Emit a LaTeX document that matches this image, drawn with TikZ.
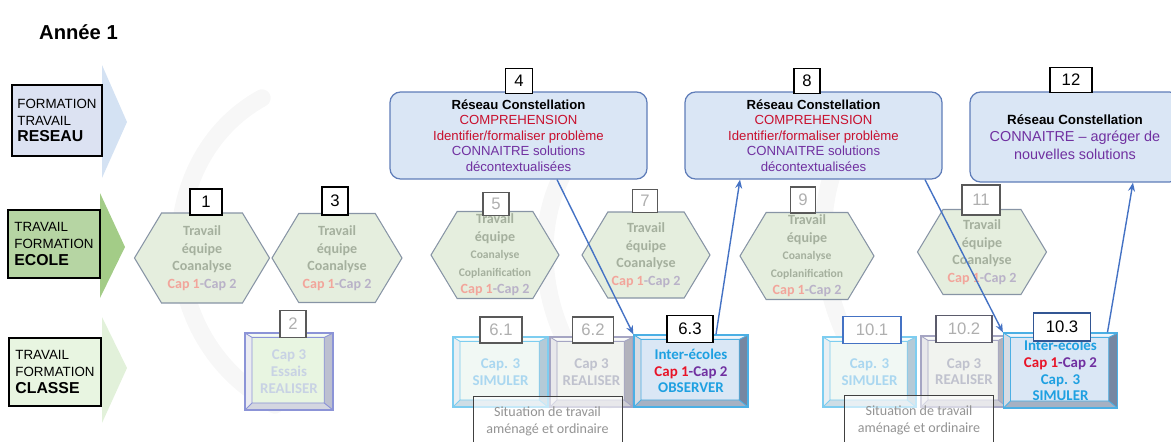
\documentclass[tikz,border=0pt]{standalone}
\usepackage{fontspec}
\setmainfont{Liberation Sans}
\newfontfamily\calib{Carlito}
\usetikzlibrary{shapes.symbols,arrows.meta}

\definecolor{lavande}{RGB}{220,226,242}
\definecolor{flecheReseau}{RGB}{212,226,243}
\definecolor{vertEcole}{RGB}{182,213,163}
\definecolor{flecheEcole}{RGB}{163,204,135}
\definecolor{vertClasse}{RGB}{232,245,225}
\definecolor{flecheClasse}{RGB}{226,241,218}
\definecolor{bleuReseau}{RGB}{218,230,245}
\definecolor{bordReseau}{RGB}{95,125,185}
\definecolor{rougeComp}{RGB}{200,16,46}
\definecolor{violetConn}{RGB}{112,48,160}
\definecolor{vertHex}{RGB}{229,238,222}
\definecolor{bordHex}{RGB}{135,148,165}
\definecolor{texteHex}{RGB}{165,176,158}
\definecolor{rougePale}{RGB}{242,165,155}
\definecolor{violetPale}{RGB}{185,178,200}
\definecolor{grisNum}{RGB}{175,175,175}
\definecolor{bleuFleche}{RGB}{68,114,196}
\definecolor{cyanInter}{RGB}{30,160,225}
\definecolor{rougeCap}{RGB}{232,20,40}
\definecolor{bordInter}{RGB}{75,175,228}
\definecolor{faceInter}{RGB}{118,135,162}
\definecolor{fondInter}{RGB}{218,231,245}
\definecolor{bordSimul}{RGB}{125,205,240}
\definecolor{faceSimul}{RGB}{180,202,215}
\definecolor{fondSimul}{RGB}{241,248,244}
\definecolor{texteSimul}{RGB}{170,215,240}
\definecolor{bordReal}{RGB}{165,165,195}
\definecolor{faceReal}{RGB}{178,178,188}
\definecolor{fondReal}{RGB}{241,243,239}
\definecolor{texteReal}{RGB}{192,194,206}
\definecolor{bordEssai}{RGB}{140,148,215}
\definecolor{faceEssai}{RGB}{188,192,208}
\definecolor{texteEssai}{RGB}{200,210,228}

\newcommand{\pix}{0.02cm}

\begin{document}
\begin{tikzpicture}[x=0.02cm,y=-0.02cm,
    voie/.style={draw=black, line width=0.6pt, align=left, inner sep=0pt,
      font=\fontsize{7.6}{9.6}\selectfont},
    hexa/.style={shape=signal, signal to=east and west, signal pointer angle=118,
      draw=bordHex, fill=vertHex, line width=0.6pt, inner sep=0pt, align=center,
      text=texteHex, font=\calib\bfseries\fontsize{8}{10}\selectfont},
    numero/.style={draw=black, fill=white, line width=0.6pt, inner sep=0pt,
      font=\fontsize{9.5}{10}\selectfont},
    numero pale/.style={numero, draw=black!65, text=grisNum},
    reseau/.style={draw=bordReseau, fill=bleuReseau, rounded corners=6pt,
      line width=0.7pt, align=center, inner sep=0pt,
      font=\fontsize{7.5}{8.9}\selectfont},
    bevel/.style n args={3}{rectangle, draw=#1, fill=#3, line width=0.7pt,
      inner sep=0pt, align=center, font=\calib\bfseries\fontsize{8.5}{9.5}\selectfont,
      path picture={
        \coordinate (pNW) at (path picture bounding box.north west);
        \coordinate (pNE) at (path picture bounding box.north east);
        \coordinate (pSE) at (path picture bounding box.south east);
        \coordinate (pSW) at (path picture bounding box.south west);
        \coordinate (qNW) at ([shift={(4pt,-2.5pt)}]pNW);
        \coordinate (qNE) at ([shift={(-5pt,-2.5pt)}]pNE);
        \coordinate (qSE) at ([shift={(-5pt,4pt)}]pSE);
        \coordinate (qSW) at ([shift={(4pt,4pt)}]pSW);
        \fill[#2] (pNE) -- (pSE) -- (qSE) -- (qNE) -- cycle;
        \fill[#2!65!white] (pSW) -- (pSE) -- (qSE) -- (qSW) -- cycle;
        \fill[#2!30!white] (pNW) -- (qNW) -- (qSW) -- (pSW) -- cycle;
        \fill[white, opacity=.6] (pNW) -- (pNE) -- (qNE) -- (qNW) -- cycle;
        \draw[#1, line width=0.5pt] (qNW) rectangle (qSE)
          (pNW) -- (qNW) (pNE) -- (qNE) (pSE) -- (qSE) (pSW) -- (qSW);
      }},
    situation/.style={draw=black!75, line width=0.5pt, fill=white, fill opacity=0.55,
      text opacity=1, text=black!42, align=center, inner sep=0pt,
      font=\calib\fontsize{8}{9.5}\selectfont,
      minimum width=149*\pix, minimum height=50*\pix},
    fleche/.style={draw=bleuFleche, line width=0.8pt, -{Stealth[length=5pt,width=4pt]}},
    filigrane/.style={draw=black!3, line width=0.35cm, line cap=round},
  ]
  \useasboundingbox (0,0) rectangle (1171,441);
  \clip (0,0) rectangle (1171,441);

  % filigrane
  \draw[filigrane] (262,98) .. controls (150,160) and (150,340) .. (275,405);
  \draw[filigrane] (600,130) .. controls (520,190) and (530,330) .. (610,400);
  \draw[filigrane] (870,110) .. controls (800,180) and (810,320) .. (890,400);

  % titre
  \node[anchor=west, font=\bfseries\fontsize{11.5}{13}\selectfont] (titre) at (33,32) {Année 1};

  % voies
  \fill[flecheReseau] (102,65) -- (127,122) -- (102,178) -- cycle;
  \fill[flecheEcole] (100,193) -- (125,247) -- (100,298) -- cycle;
  \fill[flecheClasse] (102,317) -- (127,368) -- (102,423) -- cycle;
  \node[voie, fill=lavande, minimum width=90*\pix, minimum height=71*\pix] (voieReseau) at (57,120.5)
    {FORMATION\\TRAVAIL\\{\bfseries\fontsize{9}{11}\selectfont RESEAU}};
  \node[voie, fill=vertEcole, minimum width=92*\pix, minimum height=68*\pix] (voieEcole) at (54,244)
    {TRAVAIL\\FORMATION\\{\bfseries\fontsize{9}{11}\selectfont ECOLE}};
  \node[voie, fill=vertClasse, minimum width=92*\pix, minimum height=68*\pix] (voieClasse) at (55,372)
    {TRAVAIL\\FORMATION\\{\bfseries\fontsize{9}{11}\selectfont CLASSE}};

  % ecole
  \node[hexa, minimum width=135*\pix, minimum height=90*\pix] (h1) at (202,258)
    {Travail\\équipe\\Coanalyse\\\textcolor{rougePale}{Cap 1}\textcolor{violetPale}{-Cap 2}};
  \node[hexa, minimum width=130*\pix, minimum height=89*\pix] (h3) at (337,258)
    {Travail\\équipe\\Coanalyse\\\textcolor{rougePale}{Cap 1}\textcolor{violetPale}{-Cap 2}};
  \node[hexa, minimum width=128*\pix, minimum height=87*\pix] (h5) at (495,255)
    {Travail\\équipe\\{\fontsize{6.6}{8}\selectfont Coanalyse}\\{\fontsize{6.6}{8.5}\selectfont Coplanification}\\\textcolor{rougePale}{Cap 1}\textcolor{violetPale}{-Cap 2}};
  \node[hexa, minimum width=128*\pix, minimum height=86*\pix] (h7) at (646,255)
    {Travail\\équipe\\Coanalyse\\\textcolor{rougePale}{Cap 1}\textcolor{violetPale}{-Cap 2}};
  \node[hexa, minimum width=134*\pix, minimum height=87*\pix] (h9) at (807,256)
    {Travail\\équipe\\{\fontsize{6.6}{8}\selectfont Coanalyse}\\{\fontsize{6.6}{8.5}\selectfont Coplanification}\\\textcolor{rougePale}{Cap 1}\textcolor{violetPale}{-Cap 2}};
  \node[hexa, minimum width=129*\pix, minimum height=85*\pix] (h11) at (982,252)
    {Travail\\équipe\\Coanalyse\\\textcolor{rougePale}{Cap 1}\textcolor{violetPale}{-Cap 2}};

  \node[numero, minimum width=32*\pix, minimum height=26*\pix] (n1) at (206,202) {1};
  \node[numero, minimum width=26*\pix, minimum height=28*\pix] (n3) at (335,201) {3};
  \node[numero pale, minimum width=26*\pix, minimum height=23*\pix] (n5) at (496,204) {5};
  \node[numero pale, minimum width=25*\pix, minimum height=23*\pix] (n7) at (645,201) {7};
  \node[numero pale, minimum width=25*\pix, minimum height=26*\pix] (n9) at (803,200) {9};
  \node[numero pale, minimum width=38*\pix, minimum height=30*\pix] (n11) at (981,200) {11};

  % reseau
  \node[reseau, minimum width=257*\pix, minimum height=87*\pix] (r4) at (518.5,135.5)
    {\textbf{Réseau Constellation}\\\textcolor{rougeComp}{COMPREHENSION}\\
     \textcolor{rougeComp}{Identifier/formaliser problème}\\
     \textcolor{violetConn}{CONNAITRE solutions}\\\textcolor{violetConn}{décontextualisées}};
  \node[reseau, minimum width=257*\pix, minimum height=87*\pix] (r8) at (813.5,135.5)
    {\textbf{Réseau Constellation}\\\textcolor{rougeComp}{COMPREHENSION}\\
     \textcolor{rougeComp}{Identifier/formaliser problème}\\
     \textcolor{violetConn}{CONNAITRE solutions}\\\textcolor{violetConn}{décontextualisées}};
  \node[reseau, minimum width=210*\pix, minimum height=90*\pix, font=\fontsize{8.2}{9.8}\selectfont] (r12) at (1075,137)
    {{\bfseries\fontsize{7.6}{9.8}\selectfont Réseau Constellation}\\
     \textcolor{violetConn}{CONNAITRE -- agréger de}\\\textcolor{violetConn}{nouvelles solutions}};
  \node[numero, minimum width=27*\pix, minimum height=25*\pix] (n4) at (519,81) {4};
  \node[numero, minimum width=26*\pix, minimum height=25*\pix] (n8) at (807,81) {8};
  \node[numero, minimum width=42*\pix, minimum height=25*\pix] (n12) at (1071,80) {12};

  % classe
  \node[bevel={bordEssai}{faceEssai}{vertClasse}, text=texteEssai,
    minimum width=88*\pix, minimum height=77*\pix] (b2) at (289,371.5)
    {Cap 3\\Essais\\REALISER};
  \node[bevel={bordSimul}{faceSimul}{fondSimul}, text=texteSimul,
    minimum width=95*\pix, minimum height=70*\pix] (b61) at (500.5,372)
    {Cap. 3\\SIMULER};
  \node[bevel={bordReal}{faceReal}{fondReal}, text=texteReal,
    minimum width=83*\pix, minimum height=70*\pix] (b62) at (591.5,372)
    {Cap 3\\REALISER};
  \node[bevel={bordInter}{faceInter}{fondInter}, text=cyanInter,
    minimum width=114*\pix, minimum height=72*\pix] (b63) at (691,371)
    {Inter-écoles\\\textcolor{rougeCap}{Cap 1}\textcolor{violetConn}{-Cap 2}\\OBSERVER};
  \node[bevel={bordSimul}{faceSimul}{fondSimul}, text=texteSimul,
    minimum width=93*\pix, minimum height=70*\pix] (b101) at (869.5,372)
    {Cap. 3\\SIMULER};
  \node[bevel={bordReal}{faceReal}{fondReal}, text=texteReal,
    minimum width=86*\pix, minimum height=71*\pix] (b102) at (964,371.5)
    {Cap 3\\REALISER};
  \node[bevel={bordInter}{faceInter}{fondInter}, text=cyanInter,
    minimum width=114*\pix, minimum height=75*\pix] (b103) at (1060.5,370.5)
    {Inter-écoles\\\textcolor{rougeCap}{Cap 1}\textcolor{violetConn}{-Cap 2}\\Cap. 3\\SIMULER};

  \node[numero pale, minimum width=26*\pix, minimum height=27*\pix] (n2) at (293,324) {2};
  \node[numero pale, minimum width=42*\pix, minimum height=26*\pix] (n61) at (501,330) {6.1};
  \node[numero pale, minimum width=41*\pix, minimum height=26*\pix] (n62) at (593,330) {6.2};
  \node[numero, minimum width=46*\pix, minimum height=27*\pix] (n63) at (690,329) {6.3};
  \node[numero pale, draw=bleuFleche, minimum width=58*\pix, minimum height=27*\pix] (n101) at (872,330) {10.1};
  \node[numero pale, draw=black!45!bordReal, minimum width=56*\pix, minimum height=27*\pix] (n102) at (964,329) {10.2};
  \node[numero, draw=bleuFleche!75!black, minimum width=57*\pix, minimum height=28*\pix] (n103) at (1062,327) {10.3};

  \node[situation] (s1) at (547.5,421) {Situation de travail\\aménagé et ordinaire};
  \node[situation] (s2) at (919,420) {Situation de travail\\aménagé et ordinaire};

  % liens
  \draw[fleche] ([xshift=0.77cm]r4.south) -- (b63.north west);
  \draw[fleche] ([xshift=0.5cm]b63.north) -- ([xshift=-1.47cm]r8.south);
  \draw[fleche] ([xshift=2.23cm]r8.south) -- (b103.north west);
  \draw[fleche] ([xshift=0.94cm]b103.north) -- ([xshift=1.16cm]r12.south);

\end{tikzpicture}
\end{document}
